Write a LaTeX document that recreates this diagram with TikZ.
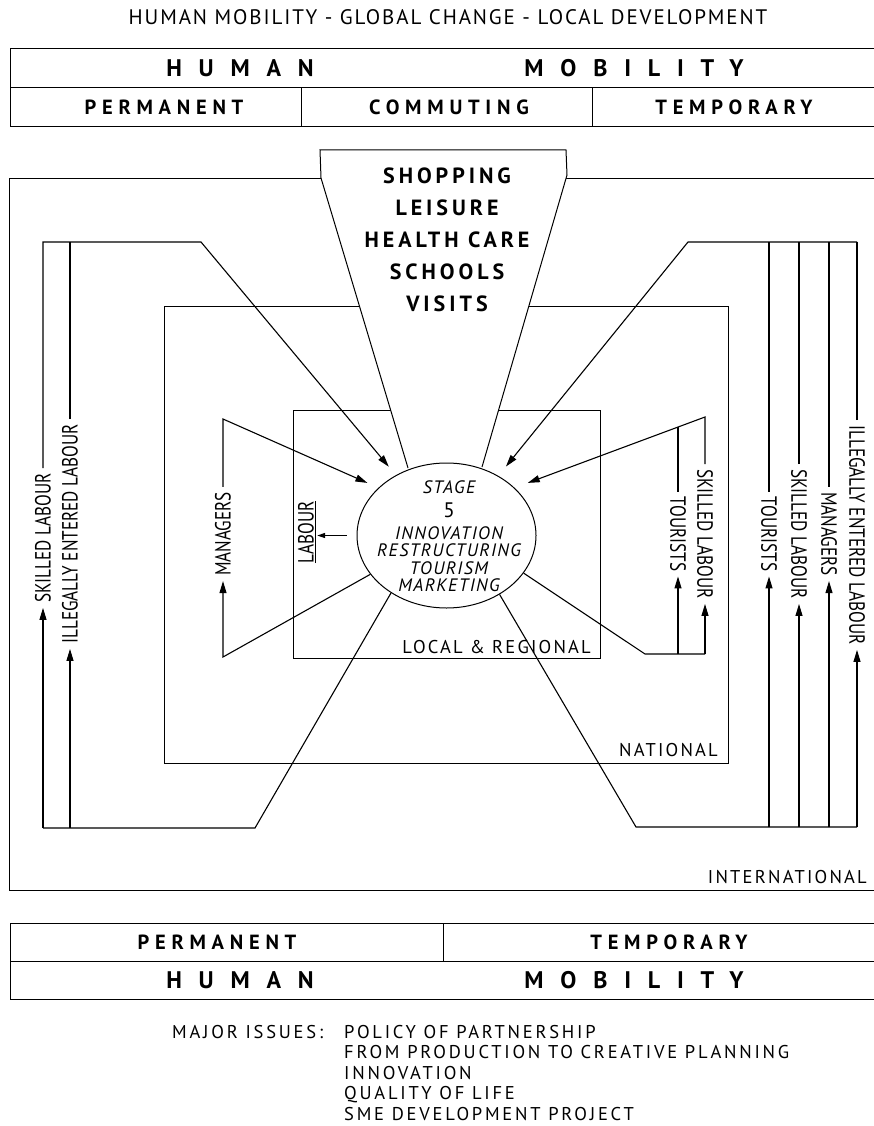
\documentclass[tikz,border=0pt]{standalone}
\usepackage{fontspec}
\setmainfont{PT Sans}
\newfontfamily\narrowfont{PT Sans}[FakeStretch=0.78]
\usetikzlibrary{arrows.meta, positioning, shapes.geometric}

\begin{document}
\begin{tikzpicture}[x=1pt,y=-1pt,
  >={Triangle[length=12pt,width=7pt]},
  box/.style={draw,line width=1pt},
  flow/.style={line width=1.1pt},
  title/.style={font=\addfontfeature{LetterSpace=9}\fontsize{21}{23}\selectfont},
  bighead/.style={font=\bfseries\addfontfeature{LetterSpace=70}\fontsize{24}{26}\selectfont},
  subhead/.style={font=\bfseries\addfontfeature{LetterSpace=28}\fontsize{20.5}{22}\selectfont},
  funneltext/.style={font=\bfseries\addfontfeature{LetterSpace=18}\fontsize{22}{32}\selectfont,align=center},
  level/.style={font=\addfontfeature{LetterSpace=12}\fontsize{18.5}{20}\selectfont,inner sep=0pt},
  vlabel/.style={font=\narrowfont\fontsize{22}{23}\selectfont,inner sep=5pt},
  stagebox/.style={ellipse,draw,line width=1pt,fill=white,minimum width=179pt,minimum height=145pt,inner sep=0pt},
  stagetext/.style={font=\itshape\addfontfeature{LetterSpace=8}\fontsize{18}{17.5}\selectfont,align=center},
  issues/.style={font=\addfontfeature{LetterSpace=15}\fontsize{18.5}{20.5}\selectfont,align=left,inner sep=0pt}]

  \useasboundingbox (0,0) rectangle (874,1126);

  % heading
  \node[title] (head) at (448,17) {HUMAN MOBILITY - GLOBAL CHANGE - LOCAL DEVELOPMENT};

  % upper mobility table
  \draw[box] (10,49) rectangle (880,127);
  \draw[box] (10,88) -- (880,88);
  \draw[box] (301,88) -- (301,127);
  \draw[box] (592,88) -- (592,127);
  \node[bighead] (tHuman) at (240,68.5) {HUMAN};
  \node[bighead] (tMob) at (634,68.5) {MOBILITY};
  \node[subhead] (tPerm) at (164,107.5) {PERMANENT};
  \node[subhead] (tComm) at (449,107.5) {COMMUTING};
  \node[subhead] (tTemp) at (734,107.5) {TEMPORARY};

  % spatial levels
  \draw[box] (9,179) rectangle (880,890);
  \draw[box] (164,306) rectangle (728,763);
  \draw[box] (293,410) rectangle (600,658);
  \node[level,anchor=south east] (intl) at (867,884) {INTERNATIONAL};
  \node[level,anchor=south east] (natl) at (718,757) {NATIONAL};
  \node[level,anchor=south east] (locl) at (591,654) {LOCAL \& REGIONAL};

  % funnel
  \fill[white] (320,150) -- (321,178) -- (408,468) -- (482,467) -- (567,175) -- (566,150) -- cycle;
  \draw[box] (408,468) -- (321,178) -- (320,150) -- (566,150) -- (567,175) -- (482,467);
  \node[funneltext] (visits) at (447,239.5) {SHOPPING\\LEISURE\\HEALTH CARE\\SCHOOLS\\VISITS};

  % stage 5
  \node[stagebox] (stage) at (446.5,535.5) {};
  \node[stagetext] (stagetxt) at (449,536) {STAGE\\[7pt]{\upshape\fontsize{21}{17.5}\selectfont 5}\\[4pt]INNOVATION\\RESTRUCTURING\\TOURISM\\MARKETING};

  % labour (local)
  \node[vlabel,rotate=90,inner sep=1pt] (labour) at (307,532) {\underline{LABOUR}};
  \draw[flow,-{Triangle[length=8pt,width=5pt]}] ([xshift=-10pt]stage.west) -- (labour.south |- stage.west);

  % left: permanent flows
  \coordinate (lsBot) at (43,828);
  \coordinate (liBot) at (70,828);
  \coordinate (lBend) at (255,828);
  \coordinate (lsTop) at (43,242);
  \coordinate (liTop) at (70,242);
  \coordinate (lKnee) at (201,242);
  \node[vlabel,rotate=90] (lSkill) at (43,538) {SKILLED LABOUR};
  \node[vlabel,rotate=90] (lIllegal) at (70,534) {ILLEGALLY ENTERED LABOUR};
  \draw[flow] (stage.226.5) -- (lBend) -- (lsBot);
  \draw[flow,->] (lsBot) -- (lSkill.west);
  \draw[flow,->] (liBot) -- (lIllegal.west);
  \draw[flow] (lIllegal.east) -- (liTop);
  \draw[flow,->,shorten >=11pt] (lSkill.east) -- (lsTop) -- (lKnee) -- (stage.130.1);

  % left: managers
  \coordinate (mBot) at (223,657);
  \coordinate (mTop) at (223,419);
  \node[vlabel,rotate=90] (lMan) at (223,534) {MANAGERS};
  \draw[flow,->] (stage.207.9) -- (mBot) -- (lMan.west);
  \draw[flow,->,shorten >=12pt] (lMan.east) -- (mTop) -- (stage.145.8);

  % right: local temporary flows
  \coordinate (iBend) at (645,654);
  \coordinate (iBot) at (705,654);
  \coordinate (iKnee) at (705,417);
  \coordinate (iTourTop) at (678,427);
  \node[vlabel,rotate=-90] (iTour) at (678,534) {TOURISTS};
  \node[vlabel,rotate=-90] (iSkill) at (705,534) {SKILLED LABOUR};
  \draw[flow] (stage.334.2) -- (iBend) -- (iBot);
  \draw[flow,->] (iTour.east |- iBot) -- (iTour.east);
  \draw[flow,->] (iBot) -- (iSkill.east);
  \draw[flow] (iTour.west) -- (iTourTop);
  \draw[flow,->,shorten >=14pt] (iSkill.west) -- (iKnee) -- (stage.35.1);

  % right: international temporary flows
  \coordinate (rBend) at (636,827);
  \coordinate (rBot) at (857,827);
  \coordinate (rKnee) at (688,242);
  \coordinate (rTop) at (857,242);
  \node[vlabel,rotate=-90] (rTour) at (769,534) {TOURISTS};
  \node[vlabel,rotate=-90] (rSkill) at (799,534) {SKILLED LABOUR};
  \node[vlabel,rotate=-90] (rMan) at (829,534) {MANAGERS};
  \node[vlabel,rotate=-90] (rIllegal) at (857,535) {ILLEGALLY ENTERED LABOUR};
  \draw[flow] (stage.312.5) -- (rBend) -- (rBot);
  \foreach \lab in {rTour,rSkill,rMan,rIllegal} {
    \draw[flow,->] (\lab.east |- rBot) -- (\lab.east);
    \draw[flow] (\lab.west) -- (\lab.west |- rTop);
  }
  \draw[flow,->,shorten >=12pt] (rTop) -- (rKnee) -- (stage.49.3);

  % lower mobility table
  \draw[box] (10,923) rectangle (880,999);
  \draw[box] (10,961) -- (880,961);
  \draw[box] (443,923) -- (443,961);
  \node[subhead] (bPerm) at (217,942) {PERMANENT};
  \node[subhead] (bTemp) at (669,942) {TEMPORARY};
  \node[bighead] (bHuman) at (240,980) {HUMAN};
  \node[bighead] (bMob) at (634,980) {MOBILITY};

  % issues
  \node[issues,anchor=north west] (issueKey) at (172,1025) {MAJOR ISSUES:};
  \node[issues,anchor=north west] (issueList) at (344,1025) {POLICY OF PARTNERSHIP\\FROM PRODUCTION TO CREATIVE PLANNING\\INNOVATION\\QUALITY OF LIFE\\SME DEVELOPMENT PROJECT};
\end{tikzpicture}
\end{document}
